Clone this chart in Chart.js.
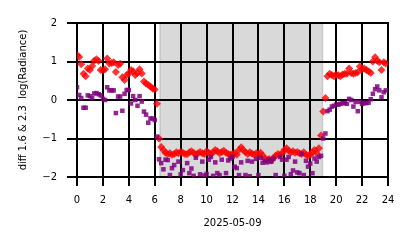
<!DOCTYPE html>
<html lang="en">
<head>
<meta charset="UTF-8">
<title>diff 1.6 and 2.3</title>
<script src="https://cdn.jsdelivr.net/npm/chart.js"></script>
<style>
	body { margin: 0; background: #ffffff; }
	#wrap { position: relative; width: 414px; height: 248px; background: #ffffff; }
	#wrap canvas { position: absolute; left: 0; top: 0; }
	#under { z-index: 0; }
	#gridLayer { position: absolute; left: 0; top: 0; width: 414px; height: 248px; z-index: 1; }
	#gridLayer div { position: absolute; background: #000000; }
	#myChart { z-index: 2; }
</style>
</head>
<body>
<div id="wrap">
	<canvas id="under" width="414" height="248"></canvas>
	<div id="gridLayer"></div>
	<canvas id="myChart" width="414" height="248"></canvas>
</div>
<script>
	// hour of day, 10 minute steps
	const hours = [
		0, 0.17, 0.33, 0.5, 0.67, 0.83,
		1, 1.17, 1.33, 1.5, 1.67, 1.83,
		2, 2.17, 2.33, 2.5, 2.67, 2.83,
		3, 3.17, 3.33, 3.5, 3.67, 3.83,
		4, 4.17, 4.33, 4.5, 4.67, 4.83,
		5, 5.17, 5.33, 5.5, 5.67, 5.83,
		6, 6.17, 6.33, 6.5, 6.67, 6.83,
		7, 7.17, 7.33, 7.5, 7.67, 7.83,
		8, 8.17, 8.33, 8.5, 8.67, 8.83,
		9, 9.17, 9.33, 9.5, 9.67, 9.83,
		10, 10.17, 10.33, 10.5, 10.67, 10.83,
		11, 11.17, 11.33, 11.5, 11.67, 11.83,
		12, 12.17, 12.33, 12.5, 12.67, 12.83,
		13, 13.17, 13.33, 13.5, 13.67, 13.83,
		14, 14.17, 14.33, 14.5, 14.67, 14.83,
		15, 15.17, 15.33, 15.5, 15.67, 15.83,
		16, 16.17, 16.33, 16.5, 16.67, 16.83,
		17, 17.17, 17.33, 17.5, 17.67, 17.83,
		18, 18.17, 18.33, 18.5, 18.67, 18.83,
		19, 19.17, 19.33, 19.5, 19.67, 19.83,
		20, 20.17, 20.33, 20.5, 20.67, 20.83,
		21, 21.17, 21.33, 21.5, 21.67, 21.83,
		22, 22.17, 22.33, 22.5, 22.67, 22.83,
		23, 23.17, 23.33, 23.5, 23.67, 23.83
	];

	// red diamonds
	const diffRed = [
		1.17, 1.12, 0.93, 0.68, 0.62, 0.82,
		0.78, 0.88, 1.02, 1.06, 1.01, 0.78,
		0.77, 0.80, 1.08, 0.95, 0.96, 0.98,
		0.73, 0.91, 0.94, 0.59, 0.52, 0.65,
		0.69, 0.78, 0.75, 0.65, 0.70, 0.80,
		0.69, 0.48, 0.43, 0.39, 0.35, 0.30,
		0.27, -0.10, -1.00, -1.22, -1.30, -1.37,
		-1.40, -1.38, -1.42, -1.40, -1.36, -1.38,
		-1.35, -1.37, -1.40, -1.41, -1.36, -1.33,
		-1.37, -1.42, -1.38, -1.35, -1.38, -1.40,
		-1.33, -1.37, -1.40, -1.36, -1.30, -1.33,
		-1.38, -1.35, -1.32, -1.37, -1.40, -1.42,
		-1.40, -1.38, -1.42, -1.30, -1.23, -1.30,
		-1.36, -1.40, -1.36, -1.39, -1.42, -1.38,
		-1.40, -1.37, -1.44, -1.52, -1.55, -1.53,
		-1.57, -1.50, -1.45, -1.40, -1.42, -1.38,
		-1.30, -1.25, -1.32, -1.36, -1.33, -1.37,
		-1.35, -1.38, -1.40, -1.36, -1.42, -1.45,
		-1.43, -1.35, -1.30, -1.38, -1.25, -0.92,
		-0.30, 0.05, 0.62, 0.68, 0.65, 0.62,
		0.66, 0.64, 0.62, 0.66, 0.68, 0.68,
		0.82, 0.70, 0.68, 0.70, 0.72, 0.87,
		0.80, 0.82, 0.78, 0.75, 0.70, 1.00,
		1.11, 1.02, 0.98, 0.78, 0.98, 0.95
	];

	// purple squares
	const diffPurple = [
		0.33, 0.13, 0.05, -0.20, -0.20, 0.12,
		0.10, 0.05, 0.17, 0.18, 0.15, 0.12,
		0.03, 0.00, 0.33, 0.25, 0.25, 0.25,
		-0.34, 0.09, 0.09, -0.28, 0.16, 0.26,
		0.26, -0.09, 0.10, 0.00, -0.15, 0.10,
		-0.04, -0.30, -0.38, -0.59, -0.48, -0.48,
		-0.52, -0.95, -1.54, -1.64, -1.80, -1.55,
		-1.56, -1.95, -1.77, -1.69, -2.20, -1.60,
		-1.93, -1.82, -2.10, -1.64, -1.90, -1.78,
		-1.97, -1.50, -2.30, -1.93, -1.60, -1.96,
		-1.92, -1.55, -1.48, -1.97, -1.62, -1.90,
		-1.95, -1.55, -2.20, -1.90, -1.57, -1.52,
		-1.48, -1.73, -1.77, -1.95, -1.62, -2.20,
		-1.95, -1.58, -1.98, -1.60, -2.10, -1.53,
		-1.95, -1.50, -1.63, -1.58, -1.62, -1.55,
		-1.60, -1.52, -1.95, -2.20, -1.48, -1.55,
		-1.97, -1.55, -1.48, -1.93, -1.83, -1.60,
		-1.88, -1.90, -1.40, -1.95, -1.58, -1.73,
		-1.65, -1.90, -1.52, -1.60, -1.48, -1.45,
		-1.00, -0.87, -0.29, -0.25, -0.17, -0.15,
		-0.12, -0.12, -0.10, -0.08, -0.08, -0.10,
		0.03, 0.00, -0.17, -0.05, -0.29, -0.05,
		-0.10, -0.08, -0.08, -0.07, 0.02, 0.16,
		0.28, 0.35, 0.25, 0.07, 0.20, 0.25
	];

	// tick values
	const xTicks = [0, 2, 4, 6, 8, 10, 12, 14, 16, 18, 20, 22, 24];
	const yTicks = [-2, -1, 0, 1, 2];

	// shaded night span, hours
	const nightStart = 6.4;
	const nightEnd = 18.95;

	const xTitle = "2025-05-09";
	const yTitle = "diff 1.6 & 2.3  log(Radiance)";

	const toPoints = (vals) => hours.map((h, i) => ({ x: h, y: vals[i] }));

	const font = { family: "'DejaVu Sans', sans-serif", size: 10 };

	const blackGrid = (len) => ({
		color: "#000",
		lineWidth: 2,
		tickLength: len,
		tickColor: "#000",
		tickWidth: 2
	});

	const myChart = new Chart(document.getElementById("myChart"), {
		type: "scatter",
		data: {
			datasets: [
				{
					label: "purple",
					data: toPoints(diffPurple),
					pointStyle: "rect",
					pointRadius: 3.2,
					pointBorderWidth: 0,
					backgroundColor: "rgba(128,0,128,0.85)",
					borderColor: "rgba(128,0,128,0.85)",
					clip: 0
				},
				{
					label: "red",
					data: toPoints(diffRed),
					pointStyle: "rectRot",
					pointRadius: 4,
					pointBorderWidth: 0,
					backgroundColor: "rgba(255,0,0,0.8)",
					borderColor: "rgba(255,0,0,0.8)",
					clip: 0
				}
			]
		},
		options: {
			responsive: false,
			animation: false,
			layout: { padding: { top: 23, right: 26, left: 0, bottom: 0 } },
			plugins: {
				legend: { display: false },
				tooltip: { enabled: false }
			},
			scales: {
				x: {
					type: "linear",
					min: 0,
					max: 24,
					afterFit: (s) => { s.height = 71; },
					ticks: { stepSize: 2, padding: 8, maxRotation: 0, color: "#000", font: font },
					grid: blackGrid(9),
					border: { color: "#000", width: 2 },
					title: { display: true, text: xTitle, color: "#000", font: font, padding: { top: 0, bottom: 19 } }
				},
				y: {
					type: "linear",
					min: -2,
					max: 2,
					afterFit: (s) => { s.width = 77; },
					ticks: {
						stepSize: 1,
						padding: 10,
						color: "#000",
						font: font,
						callback: (v) => String(v).replace("-", "\u2212")
					},
					grid: blackGrid(10),
					border: { color: "#000", width: 2 },
					title: { display: true, text: yTitle, color: "#000", font: font, padding: { top: 17, bottom: 0 } }
				}
			}
		}
	});

	// gray night band on a canvas under the chart
	function drawBand(chart) {
		const ctx = document.getElementById("under").getContext("2d");
		const { top, bottom } = chart.chartArea;
		const sx = chart.scales.x;
		const x0 = sx.getPixelForValue(nightStart);
		const x1 = sx.getPixelForValue(nightEnd);
		ctx.fillStyle = "#ffffff";
		ctx.fillRect(0, 0, 414, 248);
		ctx.fillStyle = "rgba(128,128,128,0.3)";
		ctx.fillRect(x0, top, x1 - x0, bottom - top);
		ctx.strokeStyle = "rgba(128,128,128,0.3)";
		ctx.lineWidth = 1.5;
		ctx.strokeRect(x0, top, x1 - x0, bottom - top);
	}

	// grid lines and outer ticks as plain boxes, placed through the chart's scales
	function drawGrid(chart) {
		const layer = document.getElementById("gridLayer");
		const { left, right, top, bottom } = chart.chartArea;
		const sx = chart.scales.x;
		const sy = chart.scales.y;
		const addLine = (x, y, w, h) => {
			const d = document.createElement("div");
			d.style.left = x + "px";
			d.style.top = y + "px";
			d.style.width = w + "px";
			d.style.height = h + "px";
			layer.appendChild(d);
		};
		xTicks.forEach((v) => {
			const px = Math.round(sx.getPixelForValue(v));
			addLine(px - 1, Math.round(top) - 1, 2, Math.round(bottom - top) + 10);
		});
		yTicks.forEach((v) => {
			const py = Math.round(sy.getPixelForValue(v));
			addLine(Math.round(left) - 10, py - 1, Math.round(right - left) + 11, 2);
		});
	}

	drawBand(myChart);
	drawGrid(myChart);
</script>
</body>
</html>
